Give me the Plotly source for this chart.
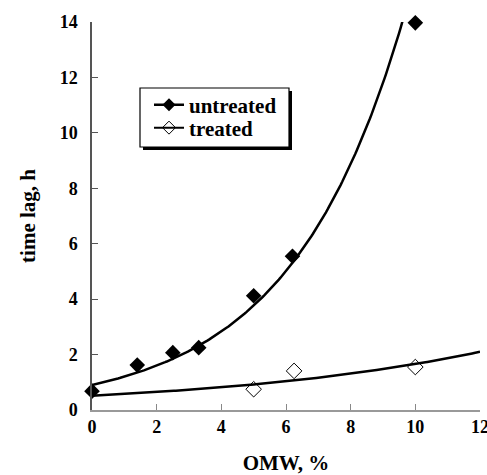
import numpy as np
import plotly.graph_objects as go

# Data
untreated_x = [0, 1.4, 2.5, 3.3, 5.0, 6.2, 10.0]
untreated_y = [0.68, 1.62, 2.07, 2.25, 4.12, 5.55, 13.97]
treated_x = [5.0, 6.25, 10.0]
treated_y = [0.75, 1.41, 1.55]

x_ticks = [0, 2, 4, 6, 8, 10, 12]
y_ticks = [0, 2, 4, 6, 8, 10, 12, 14]

FONT = "Liberation Serif"

# plot area in pixels (used only to place the legend box decorations)
L, R, T, B = 92, 480, 22, 410


def px_x(p):
    return (p - L) / (R - L)


def px_y(p):
    return (B - p) / (B - T)


def exp_fit(xs, ys, x_end):
    # exponential trendline (least squares on ln y), as the spreadsheet trendline
    k, lna = np.polyfit(np.array(xs), np.log(np.array(ys)), 1)
    xx = np.linspace(0, x_end, 200)
    return xx, np.exp(lna) * np.exp(k * xx)


ux, uy = exp_fit(untreated_x, untreated_y, 10.0)
tx, ty = exp_fit(treated_x, treated_y, 12.0)

fig = go.Figure()
fig.add_trace(go.Scatter(x=ux, y=uy, mode="lines", line=dict(color="black", width=2.5),
                         showlegend=False, hoverinfo="skip"))
fig.add_trace(go.Scatter(x=tx, y=ty, mode="lines", line=dict(color="black", width=2.5),
                         showlegend=False, hoverinfo="skip"))
fig.add_trace(go.Scatter(x=treated_x, y=treated_y, mode="markers",
                         marker=dict(symbol="diamond-open", size=12, color="black",
                                     line=dict(width=1, color="black")),
                         cliponaxis=False, showlegend=False))
fig.add_trace(go.Scatter(x=untreated_x, y=untreated_y, mode="markers",
                         marker=dict(symbol="diamond", size=12, color="black"),
                         cliponaxis=False, showlegend=False))
# legend entries
fig.add_trace(go.Scatter(x=[None], y=[None], mode="lines+markers", name="untreated",
                         line=dict(color="black", width=2.5),
                         marker=dict(symbol="diamond", size=10, color="black"),
                         legend="legend"))
fig.add_trace(go.Scatter(x=[None], y=[None], mode="lines+markers", name="treated",
                         line=dict(color="black", width=2),
                         marker=dict(symbol="diamond-open", size=10, color="black",
                                     line=dict(width=1, color="black")),
                         legend="legend2"))

leg_common = dict(xanchor="left", yanchor="middle", bgcolor="rgba(0,0,0,0)",
                  borderwidth=0,
                  font=dict(family=FONT, size=21, color="black", weight="bold"))

fig.update_layout(
    width=487, height=475,
    margin=dict(l=L, r=487 - R, t=T, b=475 - B),
    paper_bgcolor="white", plot_bgcolor="white",
    font=dict(family=FONT, color="black", size=18),
    legend=dict(x=px_x(149), y=px_y(105), **leg_common),
    legend2=dict(x=px_x(149), y=px_y(128), **leg_common),
    shapes=[
        dict(type="rect", xref="paper", yref="paper", layer="above",
             x0=px_x(143), x1=px_x(292), y0=px_y(150), y1=px_y(91),
             fillcolor="black", line=dict(width=0)),
        dict(type="rect", xref="paper", yref="paper", layer="above",
             x0=px_x(140), x1=px_x(289), y0=px_y(147), y1=px_y(88),
             fillcolor="white", line=dict(width=1.2, color="black")),
    ],
)
fig.update_xaxes(range=[0, 12], tickvals=x_ticks, ticks="inside", ticklen=6,
                 tickcolor="#888", showline=True, linecolor="#999", linewidth=1.5,
                 showgrid=False, zeroline=False, ticklabelstandoff=0,
                 ticklabeloverflow="allow", automargin=False,
                 tickfont=dict(family=FONT, size=18, weight="bold"),
                 title=dict(text="OMW, %", standoff=24,
                            font=dict(family=FONT, size=21, weight="bold")))
fig.update_yaxes(range=[0, 14], tickvals=y_ticks, ticks="inside", ticklen=6,
                 tickcolor="#555", showline=True, linecolor="#555", linewidth=1.5,
                 showgrid=False, zeroline=False, ticklabelstandoff=9,
                 automargin=False,
                 tickfont=dict(family=FONT, size=18, weight="bold"),
                 title=dict(text="time lag, h", standoff=18,
                            font=dict(family=FONT, size=21, weight="bold")))

fig.write_html("out.html", config={"displayModeBar": False},
               post_script="document.body.style.margin='0';document.body.style.overflow='hidden';")
